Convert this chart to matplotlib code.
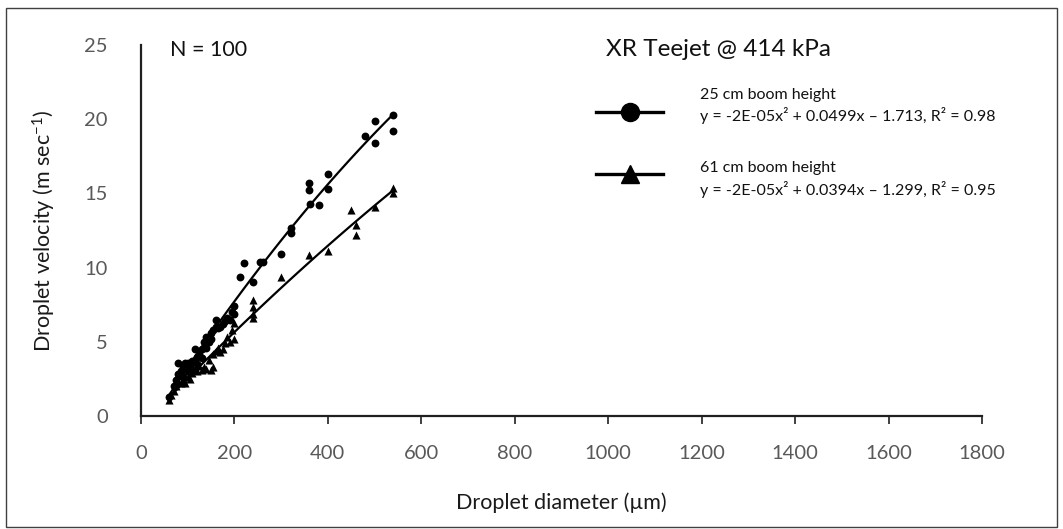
import numpy as np
import matplotlib
matplotlib.use("Agg")
import matplotlib.pyplot as plt
from matplotlib.lines import Line2D
from matplotlib.patches import Rectangle

plt.rcParams['font.family'] = ['Lato', 'DejaVu Sans']
plt.rcParams['mathtext.fontset'] = 'custom'
plt.rcParams['mathtext.rm'] = 'Lato'
plt.rcParams['mathtext.it'] = 'Lato:italic'

# 25 cm boom height (circles)
x25 = [60, 70, 75, 80, 80, 85, 90, 90, 95, 100, 100, 105, 110, 110, 115, 120, 120, 125,
       130, 130, 135, 140, 140, 145, 150, 150, 155, 160, 160, 165, 170, 175, 180, 185,
       190, 195, 200, 200, 212, 220, 239, 255, 261, 300, 320, 320, 360, 360, 362, 380,
       400, 400, 480, 500, 500, 540, 540]
y25 = [1.3, 2.0, 2.4, 3.6, 2.8, 3.0, 3.3, 2.6, 3.6, 3.0, 3.6, 3.4, 3.7, 3.1, 4.5, 3.5, 4.0, 4.2,
       4.5, 3.9, 5.0, 4.6, 5.3, 5.0, 5.6, 5.2, 5.8, 6.5, 6.0, 5.9, 6.0, 6.2, 6.4, 6.6,
       6.5, 7.0, 7.4, 6.9, 9.4, 10.3, 9.0, 10.4, 10.4, 10.9, 12.7, 12.3, 15.7, 15.2, 14.3, 14.2,
       16.3, 15.3, 18.9, 19.9, 18.4, 20.3, 19.2]

# 61 cm boom height (triangles)
x61 = [60, 65, 70, 75, 80, 80, 85, 90, 95, 100, 100, 105, 110, 115, 120, 125, 130, 135,
       140, 145, 150, 155, 155, 160, 165, 170, 175, 180, 185, 190, 195, 198, 200,
       240, 240, 240, 240, 300, 360, 400, 450, 460, 460, 500, 540, 540]
y61 = [1.1, 1.4, 1.7, 2.0, 2.3, 2.8, 2.2, 2.5, 2.2, 2.6, 3.0, 2.5, 2.9, 3.2, 3.0, 3.4, 3.1, 3.3,
       3.2, 3.8, 3.1, 3.3, 4.2, 4.4, 4.6, 4.3, 4.5, 4.9, 5.3, 5.0, 5.8, 5.2, 6.3,
       7.8, 7.35, 6.9, 6.6, 9.4, 10.85, 11.1, 13.9, 12.9, 12.2, 14.1, 15.36, 15.0]

x_ticks = [0, 200, 400, 600, 800, 1000, 1200, 1400, 1600, 1800]
y_ticks = [0, 5, 10, 15, 20, 25]

W, H = 1063, 529
fig = plt.figure(figsize=(W / 100, H / 100), dpi=100)
ax = fig.add_axes([141 / W, 1 - 416 / H, (982 - 141) / W, (416 - 45) / H])

ax.scatter(x25, y25, marker='o', s=32, color='black', zorder=3, linewidths=0)
ax.scatter(x61, y61, marker='^', s=34, color='black', zorder=3, linewidths=0)

for xs, ys in ((x25, y25), (x61, y61)):
    c = np.polyfit(xs, ys, 2)
    xx = np.linspace(min(xs), max(xs), 100)
    ax.plot(xx, np.polyval(c, xx), color='black', lw=1.6, zorder=4)

ax.set_xlim(0, 1800)
ax.set_ylim(0, 25)
ax.set_xticks(x_ticks)
ax.set_yticks(y_ticks)
ax.tick_params(axis='x', direction='out', length=6, width=1.2, colors='#595959',
               labelsize=14.5, pad=15)
ax.tick_params(axis='y', length=0, colors='#595959', labelsize=14.5, pad=24)
for side in ('top', 'right'):
    ax.spines[side].set_visible(False)
for side in ('left', 'bottom'):
    ax.spines[side].set_color('#202020')
    ax.spines[side].set_linewidth(1.6)
ax.tick_params(axis='x', color='#202020')

ax.set_xlabel('Droplet diameter (µm)', fontsize=15.5, color='#1a1a1a', labelpad=22)
ax.set_ylabel('Droplet velocity (m sec$^{-1}$)', fontsize=15.5, color='#1a1a1a', labelpad=19)

def fx(px):
    return px / W

def fy(py):
    return 1 - py / H

fig.text(fx(170), fy(50), 'N = 100', fontsize=15.5, va='center', ha='left', color='#111111')
fig.text(fx(606), fy(50), 'XR Teejet @ 414 kPa', fontsize=17.5, va='center', ha='left', color='#111111')

# legend
for ly, mk, ms in ((111.5, 'o', 13), (173.5, '^', 13)):
    fig.add_artist(Line2D([fx(596), fx(663)], [fy(ly), fy(ly)], color='black', lw=2.4,
                          transform=fig.transFigure))
    fig.add_artist(Line2D([fx(629.5)], [fy(ly)], marker=mk, markersize=ms, color='black',
                          transform=fig.transFigure))

fs_leg = 11.5
fig.text(fx(700), fy(95), '25 cm boom height', fontsize=fs_leg, va='center', ha='left', color='#111111')
fig.text(fx(700), fy(116), 'y = -2E-05x² + 0.0499x – 1.713, R² = 0.98', fontsize=fs_leg,
         va='center', ha='left', color='#111111')
fig.text(fx(700), fy(168), '61 cm boom height', fontsize=fs_leg, va='center', ha='left', color='#111111')
fig.text(fx(700), fy(190), 'y = -2E-05x² + 0.0394x – 1.299, R² = 0.95', fontsize=fs_leg,
         va='center', ha='left', color='#111111')

fig.add_artist(Rectangle((6 / W, 2 / H), (1057 - 6) / W, (521 - 2) / H, fill=False,
                         edgecolor='#404040', lw=1.0, transform=fig.transFigure))

fig.savefig('out.png', dpi=100)
